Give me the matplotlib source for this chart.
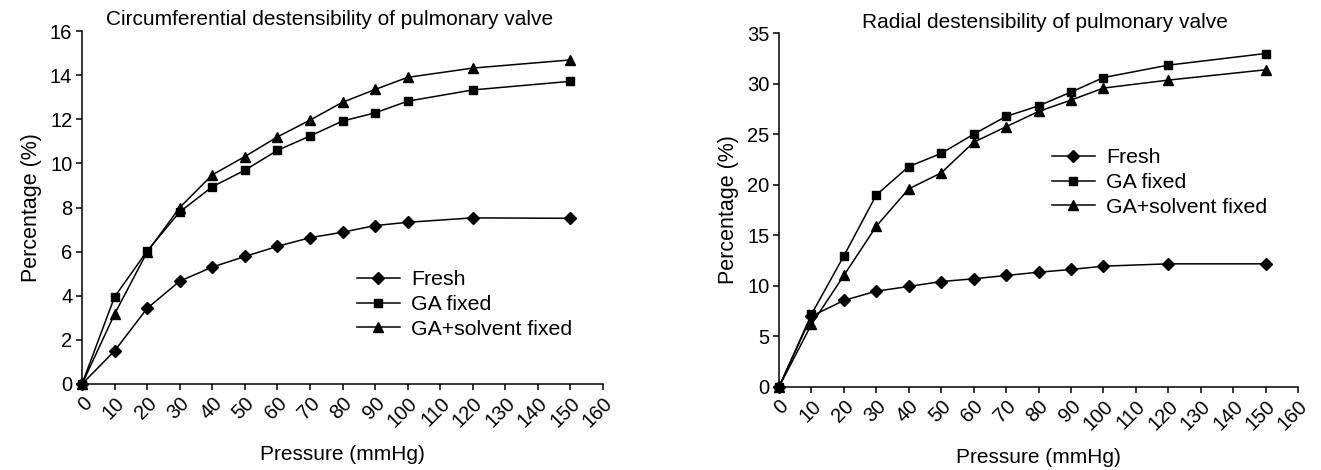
import matplotlib
matplotlib.use("Agg")
import matplotlib.pyplot as plt

plt.rcParams['font.family'] = ['Liberation Sans', 'DejaVu Sans']

# pressure steps (mmHg)
pressure = [0, 10, 20, 30, 40, 50, 60, 70, 80, 90, 100, 120, 150]

# circumferential distensibility (%)
circ_fresh = [0, 1.5, 3.43, 4.66, 5.3, 5.78, 6.24, 6.63, 6.88, 7.18, 7.33, 7.53, 7.51]
circ_ga = [0, 3.95, 6.03, 7.8, 8.94, 9.69, 10.59, 11.24, 11.92, 12.29, 12.82, 13.33, 13.72]
circ_ga_solvent = [0, 3.17, 5.98, 8.0, 9.48, 10.31, 11.2, 11.96, 12.77, 13.35, 13.9, 14.32, 14.69]

# radial distensibility (%)
rad_fresh = [0, 7.0, 8.56, 9.48, 9.94, 10.43, 10.7, 11.03, 11.35, 11.62, 11.95, 12.18, 12.18]
rad_ga = [0, 7.18, 12.97, 18.99, 21.8, 23.1, 25.0, 26.76, 27.8, 29.16, 30.6, 31.83, 32.98]
rad_ga_solvent = [0, 6.19, 11.03, 15.9, 19.6, 21.17, 24.2, 25.74, 27.25, 28.37, 29.56, 30.35, 31.37]

labels = ['Fresh', 'GA fixed', 'GA+solvent fixed']
markers = ['D', 's', '^']
msizes = [6, 6, 7]
xticks = list(range(0, 170, 10))


def draw_panel(ax, series, title, title_x, ymax, ystep, legend_anchor):
    for ys, lab, m, ms in zip(series, labels, markers, msizes):
        ax.plot(pressure, ys, color='black', linewidth=1.1, marker=m,
                markersize=ms, label=lab, clip_on=False, zorder=3)
    ax.set_xlim(0, 160)
    ax.set_ylim(0, ymax)
    ax.set_xticks(xticks)
    ax.set_xticklabels([str(v) for v in xticks], rotation=45, ha='right',
                       va='top', rotation_mode='anchor')
    ax.set_yticks(list(range(0, ymax + 1, ystep)))
    ax.spines['top'].set_visible(False)
    ax.spines['right'].set_visible(False)
    ax.spines['left'].set_linewidth(1.1)
    ax.spines['bottom'].set_linewidth(1.1)
    ax.tick_params(direction='out', length=4, width=1.1, labelsize=14.5, pad=3)
    ax.set_title(title, fontsize=15, pad=4, x=title_x)
    ax.set_xlabel('Pressure (mmHg)', fontsize=15, labelpad=10)
    ax.set_ylabel('Percentage (%)', fontsize=15.5, labelpad=6)
    ax.legend(loc='upper left', bbox_to_anchor=legend_anchor,
              bbox_transform=fig.transFigure, frameon=False, fontsize=15.3,
              borderpad=0, borderaxespad=0, handlelength=2.0,
              handletextpad=0.55, labelspacing=0.28)


fig = plt.figure(figsize=(13.21, 4.70), dpi=100)
ax1 = fig.add_axes([0.0621, 0.183, 0.3944, 0.751])
ax2 = fig.add_axes([0.5897, 0.1766, 0.3929, 0.753])

draw_panel(ax1, [circ_fresh, circ_ga, circ_ga_solvent],
           'Circumferential destensibility of pulmonary valve', 0.475, 16, 2,
           (357 / 1321, 1 - 270 / 470))
draw_panel(ax2, [rad_fresh, rad_ga, rad_ga_solvent],
           'Radial destensibility of pulmonary valve', 0.513, 35, 5,
           (1052 / 1321, 1 - 148 / 470))

fig.savefig('out.png', dpi=100)
